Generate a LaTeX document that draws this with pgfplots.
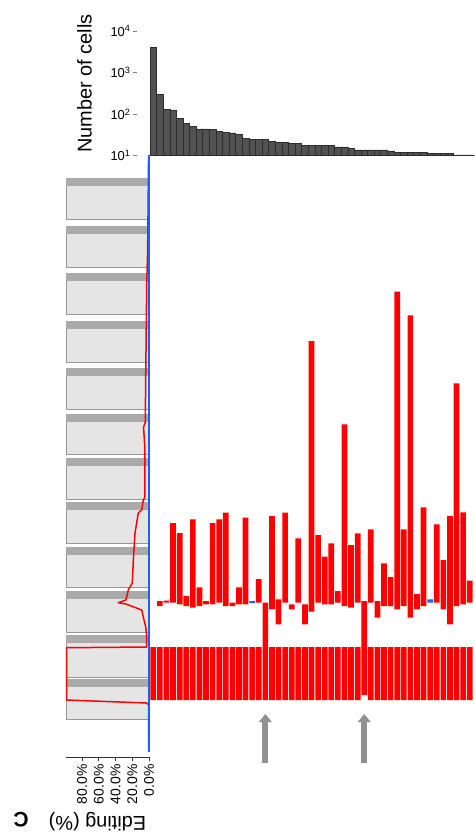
\documentclass[border=0pt]{standalone}
\usepackage{fontspec}
\setmainfont{Liberation Sans}
\usepackage{pgfplots}
\pgfplotsset{compat=1.18}
\usepackage{pgfplotstable}
\usetikzlibrary{arrows.meta}

\definecolor{edblue}{RGB}{30,95,250}
\definecolor{histfill}{RGB}{82,82,82}
\definecolor{histdraw}{RGB}{45,45,45}
\definecolor{boxfill}{RGB}{229,229,229}
\definecolor{boxhead}{RGB}{170,170,170}
\definecolor{boxdraw}{RGB}{150,150,150}
\definecolor{arrowgray}{RGB}{145,145,145}

\pgfplotstableread{
col cells top red blue gap tile
0 4040 647 0 0 0 53
1 304 601 5 0 41 53
2 132 600.7 2 0 44.3 53
3 123 523 79.7 0 44.3 53
4 80.6 533 71.3 0 42.7 53
5 60 596 10 0 41 53
6 51.8 519.3 88.4 0 39.3 53
7 43.9 587.3 18.7 0 41 53
8 43.9 601 3.3 0 42.7 53
9 42.2 523 81.3 0 42.7 53
10 37.8 519.3 83.4 0 44.3 53
11 36.5 512.7 93.3 0 41 53
12 35.2 602.7 3.3 0 41 53
13 32.7 587.3 17 0 42.7 53
14 26.6 517.7 86.6 0 42.7 53
15 24.3 601 0 2 44 53
16 24.3 579 23.7 0 44.3 53
17 24.3 602.7 44.3 0 0 53
18 22.5 516 93.3 0 37.7 53
19 21.3 599.3 25 0 22.7 53
20 21.3 512.7 90 0 44.3 53
21 19.9 604.3 5 0 37.7 53
22 19.9 538.3 64.4 0 44.3 53
23 17.4 604.3 20 0 22.7 53
24 17.4 341 270.7 0 35.3 53
25 17.4 535 67.7 0 44.3 53
26 17.4 556.7 47.6 0 42.7 53
27 17.4 543.3 61 0 42.7 53
28 16.2 591 11.7 0 44.3 53
29 16.2 424.3 181.7 0 41 53
30 15.1 545 62.7 0 39.3 53
31 13.9 533.3 69.4 0 44.3 53
32 13.9 601 46 0 0 48
33 13.9 529.3 73.4 0 44.3 53
34 13.9 601 16.7 0 29.3 53
35 13.9 563.3 42.7 0 41 53
36 13 577 29 0 41 53
37 12.1 291.7 317.6 0 37.7 53
38 12.1 529.3 76.7 0 41 53
39 12.1 315.3 302.4 0 29.3 53
40 12.1 594 15.3 0 37.7 53
41 12.1 507.3 98.7 0 41 53
42 11.4 599.3 0 3.4 44.3 53
43 11.4 524.3 78.4 0 44.3 53
44 11.4 560 49.3 0 37.7 53
45 11.4 516 108.3 0 22.7 53
46 10.4 383.3 222.7 0 41 53
47 10.4 512.3 92 0 42.7 53
48 10.4 580.7 22 0 44.3 53
}\cols

\pgfplotstableread{
pct y
0.5 155
1.0 200
1.6 250
2.7 283
4.0 383
4.5 423
6.5 427
4.8 450
4.8 497
6.8 500
8.7 510
12.8 513
14.7 523
16.7 533
18.7 560
19.9 583
22.7 587
24.7 590
27.5 600
36.7 602.7
27.5 604
8.7 610
6.8 617
3.9 627
2.7 637
2.7 647
98.3 647.7
98.3 700
2.7 703
0.5 705
0.5 750
}\profile

\pgfplotstableread{
col y u v
17 763 0 -49
32 763 0 -49
}\arrowdata

\begin{document}
\begin{tikzpicture}
\useasboundingbox (0,0) rectangle (475bp,-835bp);

% ---------- histogram ----------
\begin{axis}[
  at={(150bp,-155.7bp)}, anchor=south west,
  scale only axis, width=325bp, height=124.7bp,
  xmin=-0.5, xmax=48.8,
  ymode=log, ymin=10, ymax=10000, log origin=infty,
  axis x line*=bottom, axis y line*=left,
  x axis line style={draw=gray!80, line width=1bp},
  y axis line style={draw=none},
  xtick=\empty, yminorticks=false, xminorticks=false,
  ytick={10,100,1000,10000},
  yticklabels={10\textsuperscript{1},10\textsuperscript{2},10\textsuperscript{3},10\textsuperscript{4}},
  tick align=outside, major tick length=4bp,
  ytick style={draw=gray, xshift=-13bp, line width=0.6bp},
  yticklabel style={xshift=-12bp, font=\fontsize{13}{15}\selectfont},
  ybar, bar width=6.59bp,
]
\addplot[fill=histfill, draw=histdraw, line width=0.5bp] table[x=col,y=cells]{\cols};
\end{axis}

% ---------- left panel (editing profile) ----------
\begin{axis}[
  at={(149bp,-155bp)}, anchor=north east,
  scale only axis, width=82.5bp, height=602bp,
  xmin=0, xmax=98.5, x dir=reverse,
  ymin=155, ymax=757, y dir=reverse,
  axis x line*=bottom, axis y line=none,
  x axis line style={draw=black!80, line width=0.8bp},
  xtick={0,20,40,60,80},
  xticklabels={0.0\%,20.0\%,40.0\%,60.0\%,80.0\%},
  tick align=outside, major tick length=4bp,
  xtick style={draw=black!80, line width=0.8bp},
  xticklabel style={rotate=90, anchor=east, font=\fontsize{14}{16}\selectfont},
  clip=false,
]
\addplot[fill=boxfill, draw=boxdraw, line width=0.8bp] coordinates {(0.8,185) (99,185) (99,219) (0.8,219)} -- cycle;
\addplot[fill=boxhead, draw=boxhead, line width=0.5bp] coordinates {(0.8,178) (99,178) (99,185) (0.8,185)} -- cycle;
\addplot[fill=boxfill, draw=boxdraw, line width=0.8bp] coordinates {(0.8,233) (99,233) (99,267) (0.8,267)} -- cycle;
\addplot[fill=boxhead, draw=boxhead, line width=0.5bp] coordinates {(0.8,226) (99,226) (99,233) (0.8,233)} -- cycle;
\addplot[fill=boxfill, draw=boxdraw, line width=0.8bp] coordinates {(0.8,280) (99,280) (99,314) (0.8,314)} -- cycle;
\addplot[fill=boxhead, draw=boxhead, line width=0.5bp] coordinates {(0.8,273) (99,273) (99,280) (0.8,280)} -- cycle;
\addplot[fill=boxfill, draw=boxdraw, line width=0.8bp] coordinates {(0.8,328) (99,328) (99,362) (0.8,362)} -- cycle;
\addplot[fill=boxhead, draw=boxhead, line width=0.5bp] coordinates {(0.8,321) (99,321) (99,328) (0.8,328)} -- cycle;
\addplot[fill=boxfill, draw=boxdraw, line width=0.8bp] coordinates {(0.8,375) (99,375) (99,409) (0.8,409)} -- cycle;
\addplot[fill=boxhead, draw=boxhead, line width=0.5bp] coordinates {(0.8,368) (99,368) (99,375) (0.8,375)} -- cycle;
\addplot[fill=boxfill, draw=boxdraw, line width=0.8bp] coordinates {(0.8,421) (99,421) (99,454) (0.8,454)} -- cycle;
\addplot[fill=boxhead, draw=boxhead, line width=0.5bp] coordinates {(0.8,414) (99,414) (99,421) (0.8,421)} -- cycle;
\addplot[fill=boxfill, draw=boxdraw, line width=0.8bp] coordinates {(0.8,465) (99,465) (99,499) (0.8,499)} -- cycle;
\addplot[fill=boxhead, draw=boxhead, line width=0.5bp] coordinates {(0.8,458) (99,458) (99,465) (0.8,465)} -- cycle;
\addplot[fill=boxfill, draw=boxdraw, line width=0.8bp] coordinates {(0.8,509) (99,509) (99,543) (0.8,543)} -- cycle;
\addplot[fill=boxhead, draw=boxhead, line width=0.5bp] coordinates {(0.8,502) (99,502) (99,509) (0.8,509)} -- cycle;
\addplot[fill=boxfill, draw=boxdraw, line width=0.8bp] coordinates {(0.8,554) (99,554) (99,587) (0.8,587)} -- cycle;
\addplot[fill=boxhead, draw=boxhead, line width=0.5bp] coordinates {(0.8,547) (99,547) (99,554) (0.8,554)} -- cycle;
\addplot[fill=boxfill, draw=boxdraw, line width=0.8bp] coordinates {(0.8,598) (99,598) (99,632) (0.8,632)} -- cycle;
\addplot[fill=boxhead, draw=boxhead, line width=0.5bp] coordinates {(0.8,591) (99,591) (99,598) (0.8,598)} -- cycle;
\addplot[fill=boxfill, draw=boxdraw, line width=0.8bp] coordinates {(0.8,642) (99,642) (99,677) (0.8,677)} -- cycle;
\addplot[fill=boxhead, draw=boxhead, line width=0.5bp] coordinates {(0.8,635) (99,635) (99,642) (0.8,642)} -- cycle;
\addplot[fill=boxfill, draw=boxdraw, line width=0.8bp] coordinates {(0.8,686) (99,686) (99,719) (0.8,719)} -- cycle;
\addplot[fill=boxhead, draw=boxhead, line width=0.5bp] coordinates {(0.8,679) (99,679) (99,686) (0.8,686)} -- cycle;
\addplot[red, line width=1.5bp, line join=round] table[x=pct,y=y]{\profile};
\addplot[edblue, line width=2bp] coordinates {(0,155) (0,752)};
\end{axis}

% ---------- main panel bars ----------
\begin{axis}[
  at={(150bp,-155bp)}, anchor=north west,
  scale only axis, width=325bp, height=615bp,
  xmin=-0.5, xmax=48.8,
  ymin=155, ymax=770, y dir=reverse,
  hide axis, clip=false,
  ybar stacked, bar width=5.7bp,
]
\addplot[draw=none, fill=none] table[x=col,y=top]{\cols};
\addplot[draw=none, fill=red] table[x=col,y=red]{\cols};
\addplot[draw=none, fill=edblue] table[x=col,y=blue]{\cols};
\addplot[draw=none, fill=none] table[x=col,y=gap]{\cols};
\addplot[draw=none, fill=red] table[x=col,y=tile]{\cols};
\end{axis}

% ---------- arrows ----------
\begin{axis}[
  at={(150bp,-155bp)}, anchor=north west,
  scale only axis, width=325bp, height=615bp,
  xmin=-0.5, xmax=48.8,
  ymin=155, ymax=770, y dir=reverse,
  hide axis, clip=false,
]
\addplot[arrowgray, line width=6bp, -{Triangle[width=12.5bp,length=8bp]},
  quiver={u=\thisrow{u},v=\thisrow{v}}] table[x=col,y=y]{\arrowdata};
\end{axis}

\node[rotate=90, font=\fontsize{20}{24}\selectfont] at (84.5bp,-83.5bp) {Number of cells};
\node[rotate=180, font=\fontsize{20}{24}\selectfont] at (97.5bp,-822bp) {Editing (\%)};
\node[rotate=180, font=\bfseries\fontsize{21}{25}\selectfont] at (21bp,-820bp) {C};
\end{tikzpicture}
\end{document}
